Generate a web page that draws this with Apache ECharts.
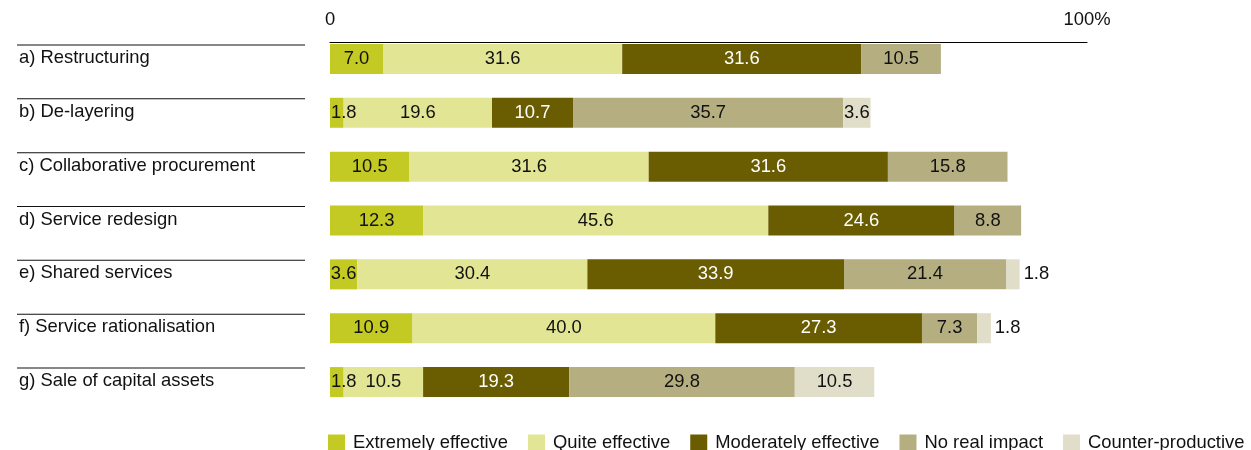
<!DOCTYPE html>
<html>
<head>
<meta charset="utf-8">
<script src="https://cdn.jsdelivr.net/npm/echarts@6/dist/echarts.min.js"></script>
<style>
  html, body { margin: 0; padding: 0; background: #fff; }
  #chart { width: 1251px; height: 450px; }
</style>
</head>
<body>
<div id="chart"></div>
<script>
// Cost-saving measures and how effective respondents found them (% of respondents)
const categories = [
  'a) Restructuring',
  'b) De-layering',
  'c) Collaborative procurement',
  'd) Service redesign',
  'e) Shared services',
  'f) Service rationalisation',
  'g) Sale of capital assets'
];
const seriesNames = ['Extremely effective', 'Quite effective', 'Moderately effective', 'No real impact', 'Counter-productive'];
const extremelyEffective  = [7.0, 1.8, 10.5, 12.3, 3.6, 10.9, 1.8];
const quiteEffective      = [31.6, 19.6, 31.6, 45.6, 30.4, 40.0, 10.5];
const moderatelyEffective = [31.6, 10.7, 31.6, 24.6, 33.9, 27.3, 19.3];
const noRealImpact        = [10.5, 35.7, 15.8, 8.8, 21.4, 7.3, 29.8];
const counterProductive   = [null, 3.6, null, null, 1.8, 1.8, 10.5];
const axisTickLabels = ['0', '100%'];

const colors = ['#c3ca23', '#e1e594', '#6a5c00', '#b5ae80', '#e0ddc9'];
const labelColors = ['#111', '#111', '#fff', '#111', '#111'];
const FONT = 'Liberation Sans, Arial, Helvetica, sans-serif';
const FS = 18.4;
const values = [extremelyEffective, quiteEffective, moderatelyEffective, noRealImpact, counterProductive];

function buildData(arr, idx) {
  return arr.map(v => {
    if (v == null) return null;
    // very thin segments: first one keeps its label at the bar start, last one goes outside
    if (v < 3 && idx === 0) return { value: v, label: { position: 'insideLeft', distance: 1 } };
    if (v < 3 && idx === 4) return { value: v, label: { position: 'right', distance: 4 } };
    return v;
  });
}

const series = values.map((arr, i) => ({
  name: seriesNames[i],
  type: 'bar',
  stack: 'total',
  barWidth: 30,
  data: buildData(arr, i),
  itemStyle: { color: colors[i] },
  label: {
    show: true,
    position: 'inside',
    color: labelColors[i],
    fontFamily: FONT,
    fontSize: FS,
    formatter: p => p.value == null ? '' : Number(p.value).toFixed(1)
  },
  emphasis: { disabled: true }
}));

const chart = echarts.init(document.getElementById('chart'), null, { renderer: 'canvas' });
chart.setOption({
  animation: false,
  textStyle: { fontFamily: FONT },
  grid: { left: 330, right: 164, top: 32, bottom: 41, containLabel: false },
  legend: {
    data: seriesNames,
    left: 328,
    top: 434,
    padding: 0,
    itemWidth: 17,
    itemHeight: 17,
    itemGap: 20,
    icon: 'rect',
    textStyle: { fontFamily: FONT, fontSize: FS, color: '#111', padding: [0, 0, 0, 3] }
  },
  xAxis: {
    type: 'value',
    position: 'top',
    offset: -10,
    min: 0,
    max: 100,
    interval: 100,
    axisLine: { show: true, lineStyle: { color: '#000', width: 1.2 } },
    axisTick: { show: false },
    splitLine: { show: false },
    axisLabel: {
      margin: 13,
      color: '#111',
      fontFamily: FONT,
      fontSize: FS,
      formatter: v => (v === 0 ? axisTickLabels[0] : axisTickLabels[1])
    }
  },
  yAxis: {
    type: 'category',
    inverse: true,
    data: categories,
    axisLine: { show: false },
    axisTick: { show: false },
    axisLabel: {
      interval: 0,
      align: 'left',
      margin: 313,
      padding: [0, 0, 4, 0],
      formatter: v => '{rule|}\n{name|' + v + '}',
      rich: {
        rule: { width: 288, height: 1, lineHeight: 2, backgroundColor: '#111' },
        name: { fontFamily: FONT, fontSize: FS, color: '#111', lineHeight: 24, padding: [0, 0, 0, 2] }
      }
    }
  },
  series: series
});
</script>
</body>
</html>
